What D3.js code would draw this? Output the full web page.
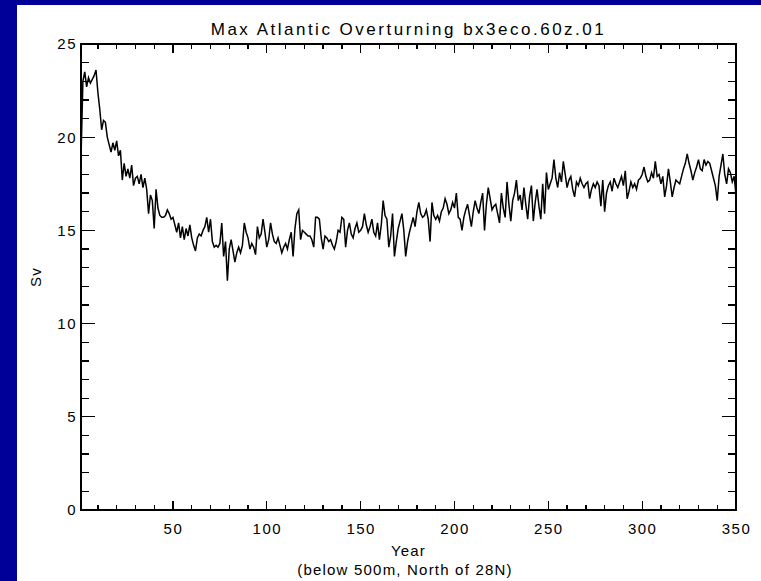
<!DOCTYPE html>
<html><head><meta charset="utf-8">
<script src="https://cdn.jsdelivr.net/npm/d3@7/dist/d3.min.js"></script>
<style>body{margin:0;padding:0;overflow:hidden;background:#000099}text{font-family:"Liberation Sans",Arial,sans-serif;fill:#000}</style>
</head><body><svg id="c" width="761" height="581"></svg>
<script>
const titleText = "Max Atlantic Overturning bx3eco.60z.01";
const xLabel = "Year";
const xSubLabel = "(below 500m, North of 28N)";
const yLabel = "Sv";
const xTicks = [50, 100, 150, 200, 250, 300, 350];
const yTicks = [0, 5, 10, 15, 20, 25];
const startYear = 1;
const sv = [
18.8,23.0,23.5,22.7,23.2,22.9,23.1,23.3,23.6,22.4,
21.5,20.4,20.9,20.8,20.0,19.6,19.2,19.7,19.3,19.8,
19.0,19.3,17.7,18.6,17.9,18.3,17.8,18.5,17.4,17.8,
17.9,17.5,18.0,17.3,17.8,17.2,15.9,16.9,16.6,15.1,
17.2,16.2,15.8,15.7,15.7,15.8,16.1,15.9,15.6,15.7,
15.3,14.9,15.4,14.6,15.2,14.5,15.1,14.7,15.3,14.6,
14.2,13.9,14.6,14.8,14.7,15.0,15.2,15.7,14.9,15.6,
14.4,14.1,14.2,14.1,14.3,15.4,13.6,14.4,12.3,14.0,
14.5,13.9,13.3,13.8,14.1,13.8,14.2,15.4,14.9,14.6,
14.0,14.3,14.1,13.7,15.2,14.6,14.8,15.6,14.9,14.1,
14.5,15.4,14.8,14.4,14.3,14.6,14.2,13.8,14.1,14.3,
14.0,14.5,14.9,13.6,15.1,15.9,16.1,14.5,15.0,14.9,
14.8,14.7,14.7,14.5,14.1,15.7,15.7,15.6,14.6,14.0,
14.7,14.6,14.4,14.5,14.2,14.0,14.4,15.0,14.9,15.7,
15.6,14.1,15.0,15.4,14.8,14.6,15.1,15.4,14.9,15.0,
15.2,15.9,15.3,14.9,15.2,15.6,14.9,14.7,15.4,14.5,
15.3,16.6,15.8,15.6,14.1,14.7,15.9,13.6,14.4,15.1,
15.5,15.9,15.0,13.6,14.4,14.9,15.3,15.7,15.2,16.0,
16.5,15.9,15.7,15.8,16.1,15.6,14.4,16.5,15.8,15.6,
15.8,15.5,16.0,16.2,16.7,16.4,15.9,16.1,16.5,16.2,
17.0,15.7,15.6,15.0,15.7,16.1,16.4,15.8,15.2,16.0,
16.6,16.2,15.9,16.5,17.0,15.0,16.4,17.3,16.7,16.1,
16.3,16.4,15.9,15.4,17.0,16.2,15.7,17.6,16.4,15.5,
16.6,17.0,17.7,16.6,16.9,16.1,17.3,16.4,15.6,16.8,
17.4,15.5,16.5,17.2,16.3,15.6,17.5,15.9,18.1,17.2,
17.5,17.8,18.8,17.8,17.3,18.1,17.6,18.7,18.0,17.3,
17.7,17.9,17.2,16.8,17.6,17.4,17.8,17.5,17.3,17.5,
17.6,16.7,17.2,17.5,17.3,17.6,17.4,16.3,17.7,16.0,
17.0,17.4,17.6,17.1,17.8,17.5,17.3,17.6,17.9,17.4,
18.2,16.7,17.1,17.6,17.3,17.5,17.2,17.7,17.8,18.0,
18.4,17.9,17.6,17.7,18.1,17.8,18.7,17.9,18.0,17.5,
17.9,16.8,17.4,18.3,17.6,16.8,17.3,17.7,17.6,17.5,
17.9,18.3,18.6,19.1,18.6,18.2,17.7,18.1,18.4,18.8,
18.3,18.2,18.8,18.5,18.7,18.6,18.2,17.8,17.4,16.6,
17.9,18.5,19.1,18.0,17.5,18.3,18.1,17.6,17.9,16.9
];
const years = sv.map((d, i) => startYear + i);

const svg = d3.select("#c");
svg.append("rect").attr("x",0).attr("y",0).attr("width",761).attr("height",581).attr("fill","#000099");
svg.append("rect").attr("x",17).attr("y",5).attr("width",744).attr("height",576).attr("fill","#fff");

const L = 81, R = 736, T = 44, B = 510;
const x = d3.scaleLinear().domain([1, 350]).range([L, R]);
const y = d3.scaleLinear().domain([0, 25]).range([B, T]);

const g = svg.append("g");
const fs = 15, ls = 1.5;
const xMinor = d3.range(10, 351, 10).filter(v => !xTicks.includes(v));
const yMinor = d3.range(1, 25, 1).filter(v => !yTicks.includes(v));

g.append("g").attr("transform",`translate(0,${B})`)
  .call(d3.axisBottom(x).tickValues(xTicks).tickSize(0).tickPadding(13).tickFormat(d3.format("d")))
  .call(a => { a.select(".domain").remove(); a.selectAll("text").attr("font-size",fs).attr("letter-spacing",ls).attr("font-family","Liberation Sans"); });
g.append("g").attr("transform",`translate(${L},0)`)
  .call(d3.axisLeft(y).tickValues(yTicks).tickSize(0).tickPadding(4).tickFormat(d3.format("d")))
  .call(a => { a.select(".domain").remove(); a.selectAll("text").attr("font-size",fs).attr("letter-spacing",ls).attr("font-family","Liberation Sans"); });

const tk = g.append("g").attr("stroke","#000").attr("stroke-width",1.3).attr("shape-rendering","crispEdges");
xTicks.forEach(v => {
  tk.append("line").attr("x1",x(v)).attr("x2",x(v)).attr("y1",B).attr("y2",B-9);
  tk.append("line").attr("x1",x(v)).attr("x2",x(v)).attr("y1",T).attr("y2",T+9);
});
xMinor.forEach(v => {
  tk.append("line").attr("x1",x(v)).attr("x2",x(v)).attr("y1",B).attr("y2",B-5);
  tk.append("line").attr("x1",x(v)).attr("x2",x(v)).attr("y1",T).attr("y2",T+5);
});
yTicks.forEach(v => {
  tk.append("line").attr("x1",L).attr("x2",L+14).attr("y1",y(v)).attr("y2",y(v));
  tk.append("line").attr("x1",R).attr("x2",R-14).attr("y1",y(v)).attr("y2",y(v));
});
yMinor.forEach(v => {
  tk.append("line").attr("x1",L).attr("x2",L+8).attr("y1",y(v)).attr("y2",y(v));
  tk.append("line").attr("x1",R).attr("x2",R-8).attr("y1",y(v)).attr("y2",y(v));
});
tk.append("rect").attr("x",L).attr("y",T).attr("width",R-L).attr("height",B-T).attr("fill","none").attr("stroke-width",1.5);

g.append("path").datum(sv)
  .attr("fill","none").attr("stroke","#000").attr("stroke-width",1.5)
  .attr("d", d3.line().x((d,i)=>x(years[i])).y(d=>y(d)));

svg.append("text").attr("x",(L+R)/2).attr("y",35).attr("text-anchor","middle").attr("font-size",17).attr("letter-spacing",2.5).text(titleText);
svg.append("text").attr("x",(L+R)/2).attr("y",556).attr("text-anchor","middle").attr("font-size",fs).attr("letter-spacing",1.2).text(xLabel);
svg.append("text").attr("x",405).attr("y",575).attr("text-anchor","middle").attr("font-size",fs).attr("letter-spacing",1.2).text(xSubLabel);
svg.append("text").attr("transform",`translate(41,${(T+B)/2}) rotate(-90)`).attr("text-anchor","middle").attr("font-size",fs).attr("letter-spacing",1.2).text(yLabel);
</script></body></html>
